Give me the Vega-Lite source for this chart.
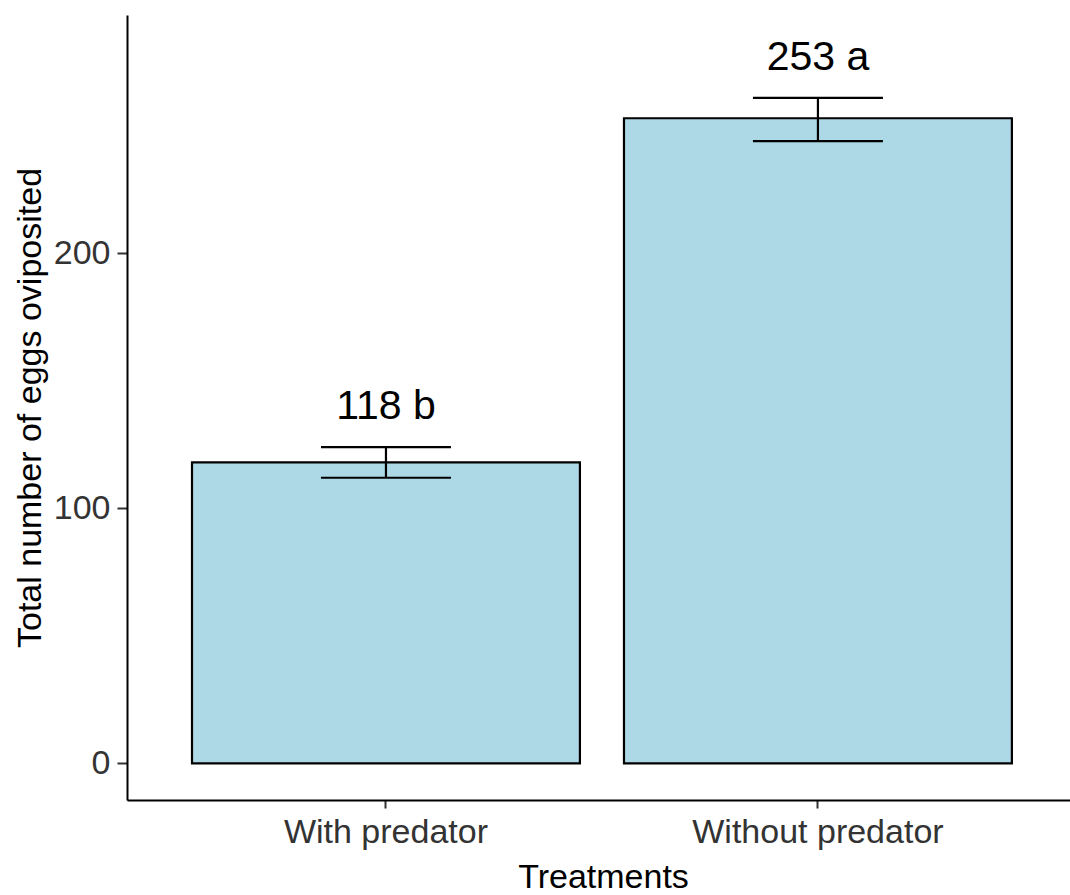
{
  "$schema": "https://vega.github.io/schema/vega-lite/v6.json",
  "autosize": {"type": "none"},
  "padding": {"left": 127, "top": 15, "right": 0, "bottom": 95},
  "width": 943,
  "height": 785,
  "background": "white",
  "config": {
    "view": {"stroke": null},
    "font": "Liberation Sans"
  },
  "data": {
    "values": [
      {"treatment": "With predator", "mean": 118, "lower": 112, "upper": 124, "label": "118 b"},
      {"treatment": "Without predator", "mean": 253, "lower": 244, "upper": 261, "label": "253 a"}
    ]
  },
  "encoding": {
    "x": {
      "field": "treatment",
      "type": "nominal",
      "sort": null,
      "scale": {"paddingInner": 0.102, "paddingOuter": 0.1425, "align": 0.528},
      "axis": {
        "title": "Treatments",
        "labelAngle": 0,
        "labelLimit": 0,
        "labelFont": "Liberation Sans",
        "labelFontSize": 34,
        "labelColor": "#333333",
        "labelPadding": 7,
        "tickSize": 8,
        "tickWidth": 2,
        "tickColor": "#333333",
        "domainColor": "#000000",
        "domainWidth": 2,
        "titleFont": "Liberation Sans",
        "titleFontSize": 34,
        "titleFontWeight": "normal",
        "titleColor": "#000000",
        "titlePadding": 11,
        "titleX": 476,
        "grid": false
      }
    }
  },
  "layer": [
    {
      "mark": {"type": "bar", "fill": "#ADD8E6", "stroke": "#000000", "strokeWidth": 2.2},
      "encoding": {
        "y": {
          "field": "mean",
          "type": "quantitative",
          "scale": {"domain": [-14.4, 293.5], "nice": false, "zero": false},
          "axis": {
            "title": "Total number of eggs oviposited",
            "values": [0, 100, 200],
            "labelFont": "Liberation Sans",
            "labelFontSize": 34,
            "labelColor": "#333333",
            "labelPadding": 7,
            "tickSize": 10,
            "tickWidth": 2,
            "tickColor": "#333333",
            "domainColor": "#000000",
            "domainWidth": 2,
            "titleFont": "Liberation Sans",
            "titleFontSize": 34,
            "titleFontWeight": "normal",
            "titleColor": "#000000",
            "titlePadding": 6,
            "grid": false
          }
        }
      }
    },
    {
      "mark": {"type": "rule", "stroke": "#000000", "strokeWidth": 2.2},
      "encoding": {
        "y": {"field": "lower", "type": "quantitative"},
        "y2": {"field": "upper"}
      }
    },
    {
      "mark": {"type": "tick", "color": "#000000", "size": 130, "thickness": 2.2, "opacity": 1},
      "encoding": {
        "y": {"field": "lower", "type": "quantitative"}
      }
    },
    {
      "mark": {"type": "tick", "color": "#000000", "size": 130, "thickness": 2.2, "opacity": 1},
      "encoding": {
        "y": {"field": "upper", "type": "quantitative"}
      }
    },
    {
      "mark": {"type": "text", "font": "Liberation Sans", "fontSize": 41, "color": "#000000", "baseline": "alphabetic", "align": "center", "dy": -28},
      "encoding": {
        "y": {"field": "upper", "type": "quantitative"},
        "text": {"field": "label", "type": "nominal"}
      }
    }
  ]
}
